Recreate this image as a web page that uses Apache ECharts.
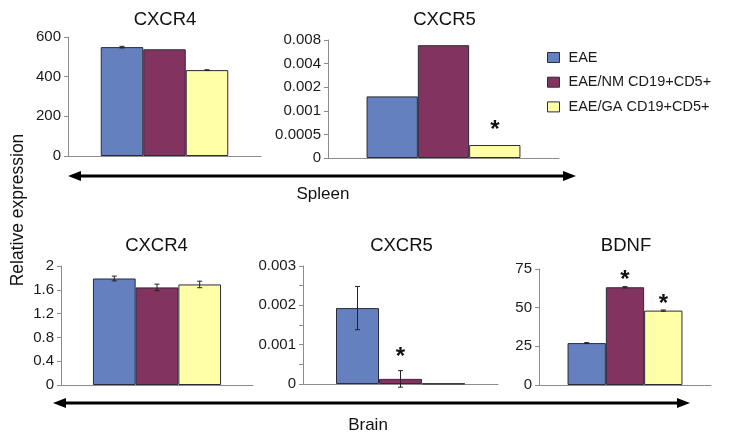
<!DOCTYPE html>
<html>
<head>
<meta charset="utf-8">
<script src="https://cdn.jsdelivr.net/npm/echarts@6/dist/echarts.min.js"></script>
<style>
html,body{margin:0;padding:0;background:#fff;}
#chart{width:729px;height:435px;}
</style>
</head>
<body>
<div id="chart"></div>
<script>
// ---- data ----
const groups = ['EAE', 'EAE/NM CD19+CD5+', 'EAE/GA CD19+CD5+'];

const panelTitles = ['CXCR4', 'CXCR5', 'CXCR4', 'CXCR5', 'BDNF'];
const tissueLabels = ['Spleen', 'Brain'];
const yAxisTitle = 'Relative expression';

const spleenCXCR4 = [549, 538, 433];
const spleenCXCR4Err = [4, 0, 2];
const spleenCXCR4Sig = [false, false, false];

const spleenCXCR5 = [0.00161, 0.00712, 0.000275];
const spleenCXCR5Err = [0, 0, 0];
const spleenCXCR5Sig = [false, false, true];
const spleenCXCR5Ticks = [0, 0.0005, 0.001, 0.002, 0.004, 0.008];

const brainCXCR4 = [1.79, 1.64, 1.69];
const brainCXCR4Err = [0.04, 0.055, 0.055];
const brainCXCR4Sig = [false, false, false];

const brainCXCR5 = [0.00193, 0.00013, 0.00001];
const brainCXCR5Err = [0.00055, 0.00021, 0];
const brainCXCR5Sig = [false, true, false];

const brainBDNF = [27.1, 63.2, 48.1];
const brainBDNFErr = [0.3, 0.4, 0.4];
const brainBDNFSig = [false, true, true];

// piecewise mapping for the spleen CXCR5 axis (evenly spaced, uneven labels)
function toSpleenScale(v) {
  const t = spleenCXCR5Ticks;
  for (let i = 1; i < t.length; i++) {
    if (v <= t[i]) return (i - 1) + (v - t[i - 1]) / (t[i] - t[i - 1]);
  }
  return t.length - 1;
}

// ---- layout / style ----
const colors = ['#6580BE', '#82335F', '#FFFFA8'];
const FONT = 'Liberation Sans, Arial, Helvetica, sans-serif';
const axisGray = '#8c8c8c';

const panels = [
  {grid:{left:68, top:37, width:193, height:119}, bw:42.5, off:20,
   vals:spleenCXCR4, err:spleenCXCR4Err, sig:spleenCXCR4Sig, tf:v=>v,
   y:{min:0, max:600, interval:200}},
  {grid:{left:328, top:40, width:231, height:118}, bw:51.3, off:20,
   vals:spleenCXCR5, err:spleenCXCR5Err, sig:spleenCXCR5Sig, tf:toSpleenScale,
   y:{min:0, max:5, interval:1, fmt:v=>String(spleenCXCR5Ticks[Math.round(v)])}},
  {grid:{left:61, top:266, width:192, height:119}, bw:42.7, off:18,
   vals:brainCXCR4, err:brainCXCR4Err, sig:brainCXCR4Sig, tf:v=>v,
   y:{min:0, max:2, interval:0.4}},
  {grid:{left:303, top:266, width:195, height:118}, bw:43, off:18,
   vals:brainCXCR5, err:brainCXCR5Err, sig:brainCXCR5Sig, tf:v=>v,
   y:{min:0, max:0.003, interval:0.001, minor:true}},
  {grid:{left:539, top:269, width:172, height:116}, bw:38.3, off:11,
   vals:brainBDNF, err:brainBDNFErr, sig:brainBDNFSig, tf:v=>v,
   y:{min:0, max:75, interval:25}}
];

const grid = [], xAxis = [], yAxis = [], series = [];
panels.forEach((p, pi) => {
  grid.push(Object.assign({containLabel:false}, p.grid));
  xAxis.push({
    type:'category', gridIndex:pi, data:[''],
    axisLine:{show:true, lineStyle:{color:axisGray, width:1}},
    axisTick:{show:false}, axisLabel:{show:false}, splitLine:{show:false}
  });
  yAxis.push({
    type:'value', gridIndex:pi, min:p.y.min, max:p.y.max, interval:p.y.interval,
    axisLine:{show:true, lineStyle:{color:axisGray, width:1}},
    axisTick:{show:true, length:4, lineStyle:{color:axisGray}},
    minorTick:{show:!!p.y.minor, splitNumber:2, length:4, lineStyle:{color:axisGray}},
    splitLine:{show:false},
    axisLabel:{
      margin:7, color:'#1a1a1a', fontSize:15, fontFamily:FONT,
      formatter: p.y.fmt || (v => String(parseFloat(v.toFixed(6))))
    }
  });
  groups.forEach((g, gi) => {
    series.push({
      type:'bar', name:g, xAxisIndex:pi, yAxisIndex:pi,
      data:[p.tf(p.vals[gi])],
      barWidth:p.bw, barGap:'0%',
      itemStyle:{color:colors[gi], borderColor:'#2b2b3a', borderWidth:1},
      animation:false, silent:true
    });
  });
  const cdata = groups.map((g, gi) => [0, p.vals[gi], p.err[gi], gi, p.sig[gi] ? 1 : 0]);
  series.push({
    type:'custom', xAxisIndex:pi, yAxisIndex:pi, clip:false, z:10, silent:true,
    animation:false,
    data:cdata,
    encode:{x:0, y:1},
    renderItem:function(params, api){
      const v = api.value(1), e = api.value(2), idx = api.value(3), s = api.value(4);
      const base = api.coord([0, p.tf(v)]);
      const cx = base[0] + (idx - 1) * p.bw;
      const topY = api.coord([0, p.tf(v + e)])[1];
      const botY2 = e > 0 ? base[1] + (base[1] - topY) : base[1];
      const children = [];
      if (e > 0) {
        const st = {stroke:'#222', lineWidth:1};
        children.push({type:'line', shape:{x1:cx, y1:topY, x2:cx, y2:botY2}, style:st});
        children.push({type:'line', shape:{x1:cx-2.5, y1:topY, x2:cx+2.5, y2:topY}, style:st});
        children.push({type:'line', shape:{x1:cx-2.5, y1:botY2, x2:cx+2.5, y2:botY2}, style:st});
      }
      if (s) {
        children.push({type:'text', x:cx, y:topY - p.off + 5,
          style:{text:'*', font:'bold 24px ' + FONT, fill:'#111',
                 align:'center', verticalAlign:'middle',
                 textAlign:'center', textVerticalAlign:'middle'}});
      }
      return {type:'group', children:children};
    }
  });
});

function txt(text, x, y, size, rot) {
  return {type:'text', x:x, y:y, rotation:rot || 0, silent:true,
    style:{text:text, font:size + 'px ' + FONT, fill:'#111',
           align:'center', verticalAlign:'middle',
           textAlign:'center', textVerticalAlign:'middle'}};
}
function arrow(x1, x2, y) {
  return [
    {type:'line', silent:true, shape:{x1:x1 + 8, y1:y, x2:x2 - 8, y2:y}, style:{stroke:'#000', lineWidth:3}},
    {type:'polygon', silent:true, shape:{points:[[x1, y], [x1 + 13, y - 5], [x1 + 13, y + 5]]}, style:{fill:'#000'}},
    {type:'polygon', silent:true, shape:{points:[[x2, y], [x2 - 13, y - 5], [x2 - 13, y + 5]]}, style:{fill:'#000'}}
  ];
}

const graphic = [
  txt(panelTitles[0], 165, 20, 18.5),
  txt(panelTitles[1], 444.5, 20, 18.5),
  txt(panelTitles[2], 156.5, 246, 18.5),
  txt(panelTitles[3], 401.5, 246, 18.5),
  txt(panelTitles[4], 626, 246, 18.5),
  txt(tissueLabels[0], 323, 194, 17),
  txt(tissueLabels[1], 368, 425, 17),
  txt(yAxisTitle, 18, 210, 17.5, Math.PI / 2)
].concat(arrow(68, 576, 176)).concat(arrow(53, 690, 403));

const chart = echarts.init(document.getElementById('chart'), null, {renderer:'canvas'});
chart.setOption({
  backgroundColor:'#fff',
  animation:false,
  legend:{
    data:groups, orient:'vertical', left:542, top:45,
    icon:'rect', itemWidth:12, itemHeight:10, itemGap:9.7,
    itemStyle:{borderColor:'#2b2b3a', borderWidth:1},
    textStyle:{fontSize:14.5, fontFamily:FONT, color:'#1a1a1a', lineHeight:14, padding:[0,0,0,4]},
    selectedMode:false
  },
  grid:grid, xAxis:xAxis, yAxis:yAxis, series:series, graphic:graphic
});
</script>
</body>
</html>
